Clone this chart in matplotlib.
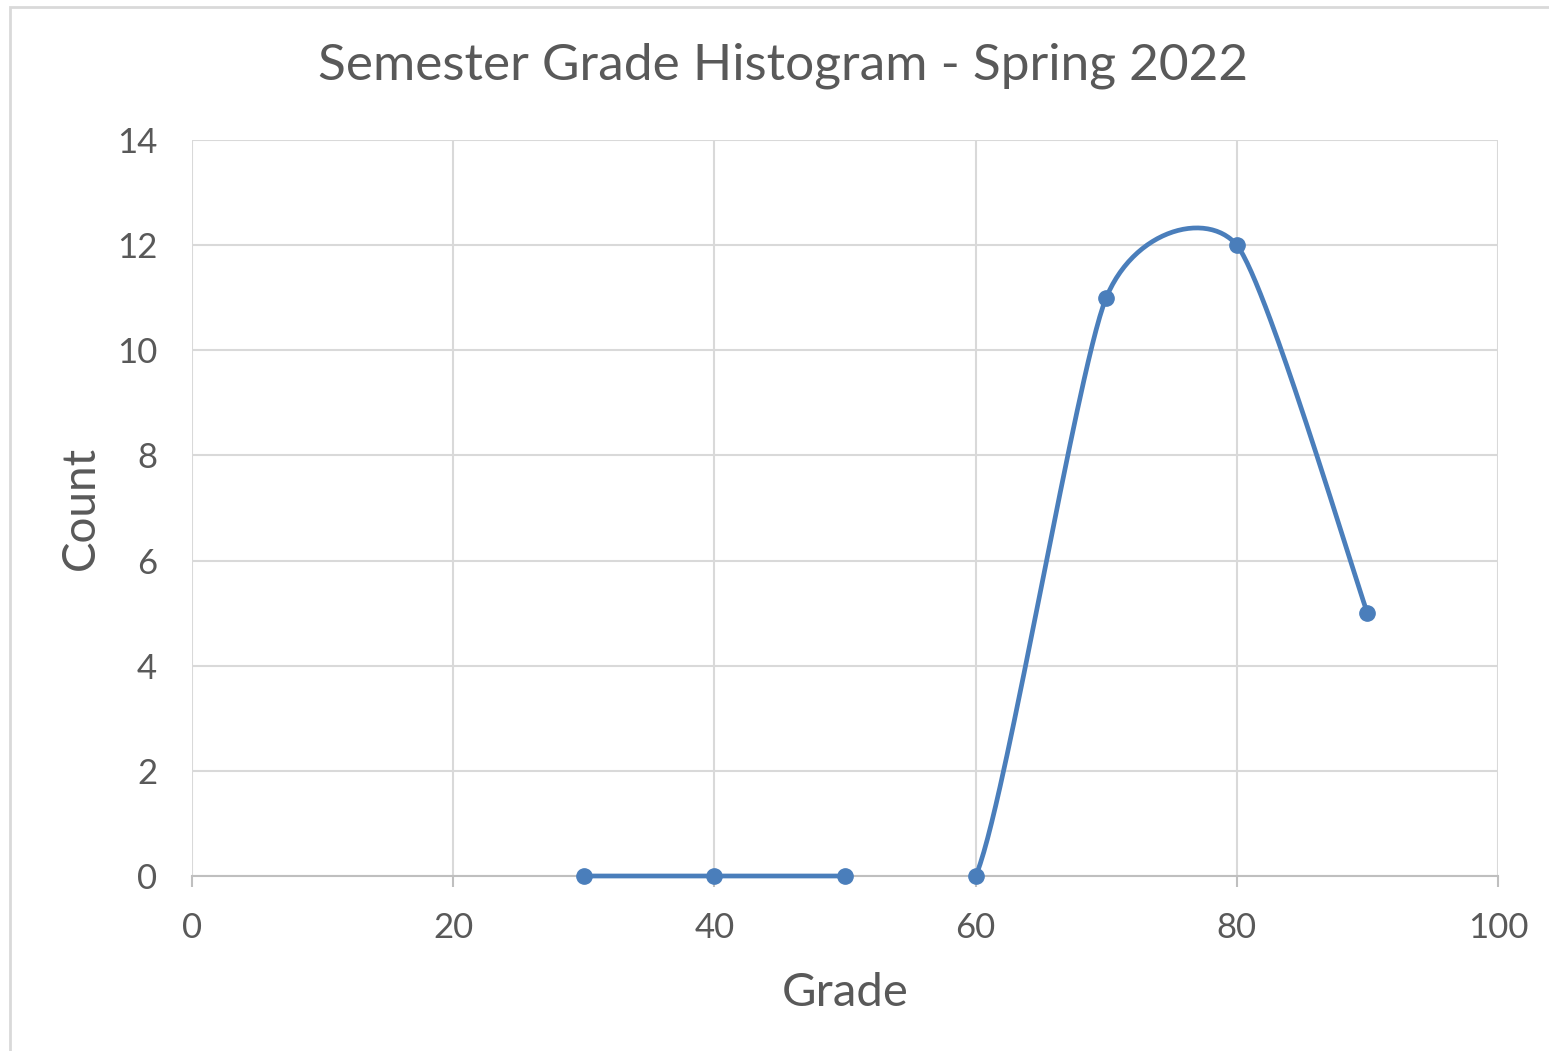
import numpy as np
import matplotlib.pyplot as plt
from matplotlib.patches import Rectangle

grades = [30, 40, 50, 60, 70, 80, 90]
counts = [0, 0, 0, 0, 11, 12, 5]

TEXT = "#595959"
GRID = "#d9d9d9"
BLUE = "#4a7ebb"

plt.rcParams["font.family"] = ["Lato", "DejaVu Sans"]


def smooth_curve(x, y, k=0.11, n=60):
    # Bezier smoothing through the points, like a spreadsheet "smoothed line"
    x = np.asarray(x, float)
    y = np.asarray(y, float)
    px = np.concatenate([[x[0]], x, [x[-1]]])
    py = np.concatenate([[y[0]], y, [y[-1]]])
    xs, ys = [], []
    t = np.linspace(0, 1, n)
    for i in range(len(x) - 1):
        p0 = np.array([x[i], y[i]])
        p3 = np.array([x[i + 1], y[i + 1]])
        p1 = p0 + k * np.array([px[i + 2] - px[i], py[i + 2] - py[i]])
        p2 = p3 - k * np.array([px[i + 3] - px[i + 1], py[i + 3] - py[i + 1]])
        b = ((1 - t) ** 3)[:, None] * p0 + (3 * (1 - t) ** 2 * t)[:, None] * p1 \
            + (3 * (1 - t) * t ** 2)[:, None] * p2 + (t ** 3)[:, None] * p3
        xs.extend(b[:, 0])
        ys.extend(b[:, 1])
    return np.array(xs), np.array(ys)


fig = plt.figure(figsize=(15.49, 10.51), dpi=100)
ax = fig.add_axes([192 / 1549, 1 - 876 / 1051, (1498 - 192) / 1549, (876 - 140) / 1051])

# chart frame
fig.patches.append(Rectangle((10 / 1549, -0.01), 1.0, 1 - 7 / 1051 + 0.01,
                             transform=fig.transFigure, fill=False,
                             edgecolor="#d9d9d9", linewidth=2))

sx, sy = smooth_curve(grades, counts)
# the part of the curve that dips below the axis is hidden
sy = np.where(sy < -1e-9, np.nan, sy)
ax.plot(sx, sy, color=BLUE, linewidth=3.4, solid_capstyle="round", zorder=3, clip_on=False)
ax.plot(grades, counts, "o", color=BLUE, markersize=11, zorder=4, clip_on=False)

ax.set_xlim(0, 100)
ax.set_ylim(0, 14)
ax.set_xticks(range(0, 101, 20))
ax.set_yticks(range(0, 15, 2))
ax.grid(True, color=GRID, linewidth=1.5)
ax.set_axisbelow(True)

for s in ["left", "right", "top"]:
    ax.spines[s].set_visible(False)
ax.spines["bottom"].set_color("#bfbfbf")
ax.spines["bottom"].set_linewidth(1.5)
ax.spines["bottom"].set_zorder(1)

ax.tick_params(axis="x", colors="#bfbfbf", length=8, width=1.5, pad=18,
               labelcolor=TEXT, labelsize=25)
ax.tick_params(axis="y", length=0, pad=25, labelcolor=TEXT, labelsize=25)

fig.text(783 / 1549, 1 - 66 / 1051, "Semester Grade Histogram - Spring 2022",
         fontsize=37, color=TEXT, ha="center", va="center")
ax.set_xlabel("Grade", fontsize=34, color=TEXT, labelpad=20)
ax.set_ylabel("Count", fontsize=33, color=TEXT, labelpad=11)

fig.savefig("out.png", dpi=100)
